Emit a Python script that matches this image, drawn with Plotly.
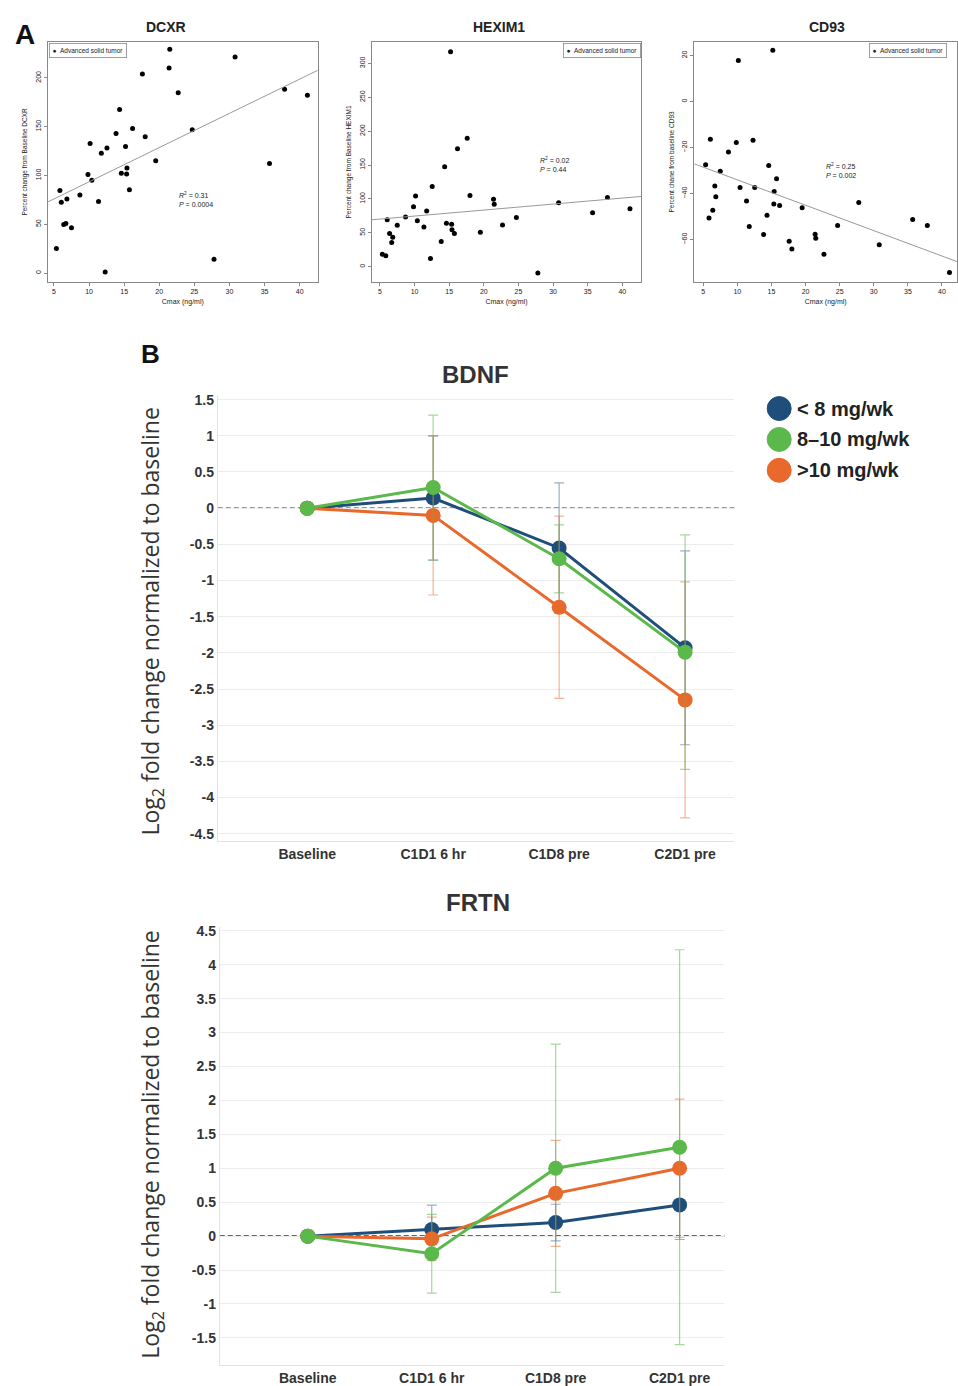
import plotly.graph_objects as go

W, H = 958, 1386
def px(x): return x / W
def py(y): return 1 - y / H

# ---------------- Panel A data ----------------
cmax = [5.35, 5.85, 6.05, 6.4, 6.7, 6.85, 7.5, 8.7, 9.85, 10.15, 10.4, 11.35, 11.75, 12.3, 12.55,
        13.85, 14.35, 14.6, 15.2, 15.35, 15.4, 15.75, 16.2, 17.6, 18.0, 19.5, 21.4, 21.5, 22.7,
        24.7, 27.8, 30.8, 35.7, 37.85, 41.1]
dcxr = [25.2, 84.5, 72.6, 49.7, 50.8, 76, 46.3, 80, 100.9, 132.9, 95, 73.3, 122.7, 1, 128.1,
        143.1, 167.6, 102.2, 129.8, 101.5, 107.7, 85.5, 148.2, 204.1, 139.7, 115.2, 210.2, 229.3,
        184.7, 146.8, 14, 221.5, 112.4, 188.4, 182.3]
hexim1 = [18.6, 16.1, 69.4, 48.9, 35.7, 43.5, 61.1, 73.3, 88.4, 104.5, 67.9, 58.6, 82.1, 12.2,
          118.2, 37.1, 147.5, 64, 317, 62.5, 54.7, 48.9, 173.9, 189.5, 105, 50.8, 99.7, 92.3, 61.6,
          72.8, -9.3, 94.3, 79.6, 102.1, 85.5]
cd93 = [-27.5, -50.6, -16.4, -47.2, -36.7, -41.4, -30.3, -21.9, -17.8, 17.8, -37.4, -43.2, -54.3,
        -16.8, -37.4, -57.8, -49.4, -27.8, 22.3, -44.5, -39.1, -33.6, -45.2, -60.7, -64.1, -46.1,
        -57.7, -59.4, -66.4, -53.9, -43.9, -62.2, -51.3, -53.9, -74.3]
# regression lines (intercept, slope)
fit_dcxr = (58.4, 3.51)
fit_hexim1 = (65.9, 0.884)
fit_cd93 = (-23.0, -1.103)
stats_dcxr = ("0.31", "0.0004")
stats_hexim1 = ("0.02", "0.44")
stats_cd93 = ("0.25", "0.002")

# ---------------- Panel B data ----------------
timepoints = ["Baseline", "C1D1 6 hr", "C1D8 pre", "C2D1 pre"]
groups = ["< 8 mg/wk", "8\u201310 mg/wk", ">10 mg/wk"]
bdnf_low = [0, 0.14, -0.55, -1.93]
bdnf_low_err = [0, 0.86, 0.90, 1.34]
bdnf_mid = [0, 0.285, -0.70, -1.99]
bdnf_mid_err = [0, 1.0, 0.47, 1.62]
bdnf_high = [0, -0.10, -1.37, -2.65]
bdnf_high_err = [0, 1.1, 1.26, 1.63]
frtn_low = [0, 0.096, 0.20, 0.46]
frtn_low_err = [0, 0.36, 0.27, 0.51]
frtn_mid = [0, -0.26, 1.0, 1.31]
frtn_mid_err = [0, 0.58, 1.83, 2.91]
frtn_high = [0, -0.04, 0.63, 1.0]
frtn_high_err = [0, 0.32, 0.78, 1.02]
bdnf_ticks = [1.5, 1, 0.5, 0, -0.5, -1, -1.5, -2, -2.5, -3, -3.5, -4, -4.5]
frtn_ticks = [4.5, 4, 3.5, 3, 2.5, 2, 1.5, 1, 0.5, 0, -0.5, -1, -1.5]

NAVY, GREEN, ORANGE = "#1e4e79", "#5bb84a", "#e8692b"
ERR = {NAVY: "rgba(30,78,121,0.45)", GREEN: "rgba(91,184,74,0.55)", ORANGE: "rgba(232,105,43,0.5)"}

fig = go.Figure()

def note(x, y, text, font, xanchor="center", yanchor="middle", **kw):
    fig.add_annotation(x=px(x), y=py(y), xref="paper", yref="paper", text=text,
                       showarrow=False, font=font, xanchor=xanchor, yanchor=yanchor, **kw)

# ---------------- Panel A ----------------
panels = [
    ("x", "y", dcxr, fit_dcxr, [4.15, 42.56], [-9.2, 237], [48, 318], [0, 50, 100, 150, 200],
     "Percent change from Baseline DCXR", "DCXR", 166, stats_dcxr, (196, 196)),
    ("x2", "y2", hexim1, fit_hexim1, [3.8, 42.74], [-22.5, 331.7], [372, 642],
     [0, 50, 100, 150, 200, 250, 300], "Percent change from Baseline HEXIM1", "HEXIM1", 500,
     stats_hexim1, (556, 161)),
    ("x3", "y3", cd93, fit_cd93, [3.69, 42.2], [-78.4, 25.9], [695, 958], [-60, -40, -20, 0, 20],
     "Percent chane from baseline CD93", "CD93", 828, stats_cd93, (842, 167)),
]
afont = dict(family="Liberation Sans, Arial", color="#222")
for i, (xa, ya, yv, fit, xr, yr, xdom, yt, ytitle, title, tx, st, spos) in enumerate(panels):
    fig.add_trace(go.Scatter(x=cmax, y=yv, mode="markers", xaxis=xa, yaxis=ya,
                             marker=dict(color="black", size=5), showlegend=False))
    lx = [xr[0], xr[1]]
    ly = [fit[0] + fit[1] * v for v in lx]
    fig.add_trace(go.Scatter(x=lx, y=ly, mode="lines", xaxis=xa, yaxis=ya,
                             line=dict(color="#999", width=1), showlegend=False))
    n = "" if i == 0 else str(i + 1)
    fig.layout["xaxis" + n] = dict(domain=[px(xdom[0]), px(xdom[1])], range=xr,
                                   anchor=ya, tickvals=[5, 10, 15, 20, 25, 30, 35, 40],
                                   showgrid=False, zeroline=False, showline=True, mirror=True,
                                   linecolor="#888", linewidth=1, ticks="outside", ticklen=3,
                                   tickcolor="#888", tickfont=dict(size=7, **afont),
                                   title=dict(text="Cmax (ng/ml)", font=dict(size=7, **afont),
                                              standoff=4))
    fig.layout["yaxis" + n] = dict(domain=[py(279), py(38)], range=yr, anchor=xa, tickvals=yt,
                                   showgrid=False, zeroline=False, showline=True, mirror=True,
                                   linecolor="#888", linewidth=1, ticks="outside", ticklen=3,
                                   tickcolor="#888", tickangle=-90, tickfont=dict(size=7, **afont),
                                   title=dict(text=ytitle, font=dict(size=6.5, **afont), standoff=6))
    note(tx, 23, "<b>%s</b>" % title, dict(size=14, family="Liberation Sans, Arial", color="#222"))
    note(spos[0], spos[1], "<i>R</i><sup>2</sup> = %s<br><i>P</i> = %s" % st,
         dict(size=7, **afont), align="left")

leg_font = dict(size=6.5, family="Liberation Sans, Arial", color="#222")
for (lxp, anchor) in [(49, "left"), (642, "right"), (870, "left")]:
    note(lxp, 39, "\u25CF  Advanced solid tumor", leg_font, xanchor=anchor, yanchor="top",
         bgcolor="white", bordercolor="#888", borderwidth=0.8, borderpad=3)

# ---------------- Panel B ----------------
def add_series(xa, ya, vals, errs, color, name):
    fig.add_trace(go.Scatter(x=timepoints, y=vals, mode="lines+markers", xaxis=xa, yaxis=ya,
                             name=name, showlegend=False,
                             line=dict(color=color, width=3),
                             marker=dict(color=color, size=15),
                             error_y=dict(type="data", array=errs, visible=True,
                                          color=ERR[color], thickness=1.2, width=5)))

add_series("x4", "y4", bdnf_low, bdnf_low_err, NAVY, groups[0])
add_series("x4", "y4", bdnf_high, bdnf_high_err, ORANGE, groups[2])
add_series("x4", "y4", bdnf_mid, bdnf_mid_err, GREEN, groups[1])
add_series("x5", "y5", frtn_low, frtn_low_err, NAVY, groups[0])
add_series("x5", "y5", frtn_high, frtn_high_err, ORANGE, groups[2])
add_series("x5", "y5", frtn_mid, frtn_mid_err, GREEN, groups[1])

bfont = dict(family="Liberation Sans, Arial", color="#333")

for n, xd, yd, xr, yr, ticks in [("4", [218, 735], [840, 392], [-0.71, 3.39], [-4.6, 1.57], bdnf_ticks),
                                 ("5", [220, 725], [1366, 926], [-0.71, 3.36], [-1.9, 4.56], frtn_ticks)]:
    fig.layout["xaxis" + n] = dict(domain=[px(xd[0]), px(xd[1])], range=xr, anchor="y" + n,
                                   type="category", showgrid=False, zeroline=False, showline=True,
                                   linecolor="#e3e3e3", linewidth=1, ticks="",
                                   tickfont=dict(size=14, weight="bold", **bfont))
    fig.layout["yaxis" + n] = dict(domain=[py(yd[0]), py(yd[1])], range=yr, anchor="x" + n,
                                   tickvals=ticks, ticktext=["%g" % t for t in ticks],
                                   showgrid=True, gridcolor="#ececec", gridwidth=1, zeroline=False,
                                   showline=True, linecolor="#e3e3e3", linewidth=1, ticks="",
                                   tickfont=dict(size=14, weight="bold", **bfont))
    fig.add_shape(type="line", xref="x%s domain" % n, yref="y" + n, x0=0, x1=1, y0=0, y1=0,
                  line=dict(color="#333", width=1.6, dash="5px,3px"), layer="below")

note(476, 372, "<b>BDNF</b>", dict(size=24, **bfont))
note(478, 902, "<b>FRTN</b>", dict(size=24, **bfont))
for yc in [620, 1145]:
    note(152, yc, "Log<sub>2</sub> fold change normalized to baseline",
         dict(size=23, family="Open Sans", color="#333"), textangle=-90)

# legend for B
for k, (color, label) in enumerate(zip([NAVY, GREEN, ORANGE], groups)):
    cy = 406 + 31 * k
    fig.add_shape(type="circle", xref="paper", yref="paper", x0=px(768), x1=px(792),
                  y0=py(cy + 12), y1=py(cy - 12), fillcolor=color, line=dict(color=color, width=1))
    note(796, cy, "<b>%s</b>" % label, dict(size=20, family="Liberation Sans, Arial", color="#222"),
         xanchor="left")

# panel letters
note(25, 31, "<b>A</b>", dict(size=28, family="Liberation Sans, Arial", color="#111"))
note(151, 351, "<b>B</b>", dict(size=26, family="Liberation Sans, Arial", color="#111"))

fig.update_layout(width=W, height=H, margin=dict(l=0, r=0, t=0, b=0), paper_bgcolor="white",
                  plot_bgcolor="white", showlegend=False)
fig.write_html("out.html", post_script="document.body.style.margin='0';",
               config={"displayModeBar": False})
